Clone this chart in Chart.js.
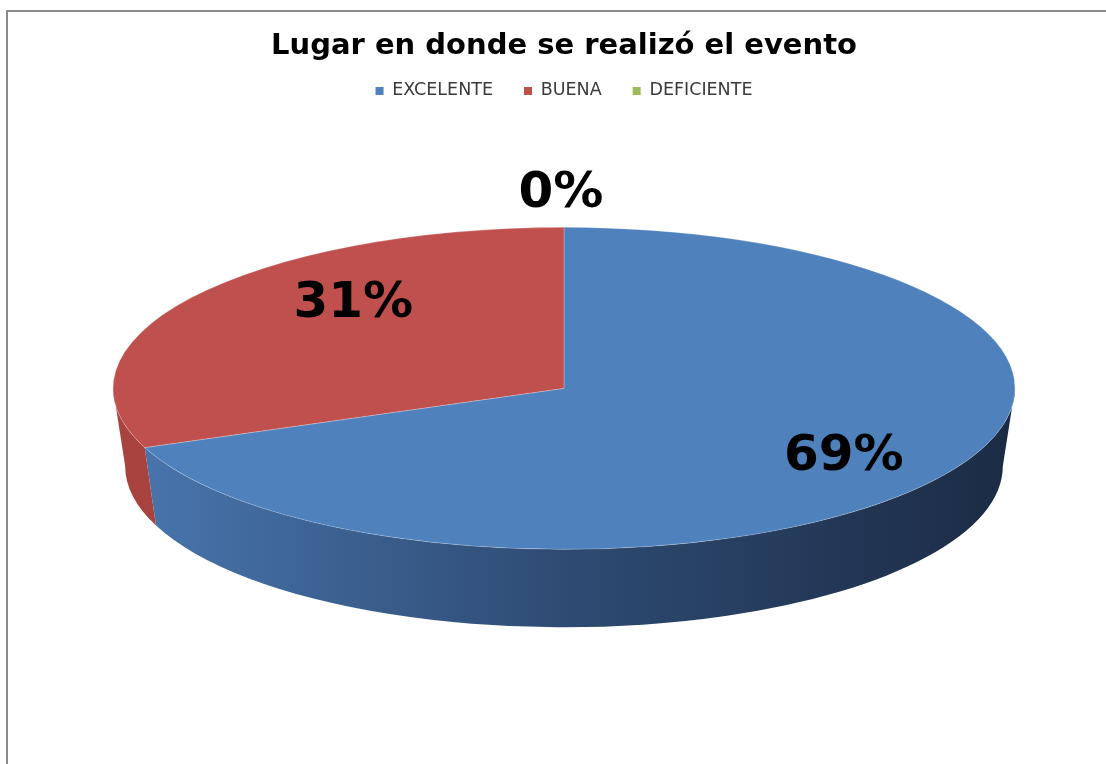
<!DOCTYPE html>
<html lang="es">
<head>
    <meta charset="UTF-8">
    <title>Lugar en donde se realizó el evento</title>
    <script src="https://cdn.jsdelivr.net/npm/chart.js"></script>
    <style>
        html, body {
            margin: 0;
            padding: 0;
            background: #ffffff;
            overflow: hidden;
        }

        /* chart frame, runs off the right and bottom edges */
        #frame {
            position: absolute;
            left: 6px;
            top: 10px;
            width: 1200px;
            height: 900px;
            border: 2px solid #8a8a8a;
        }

        #wrap {
            position: absolute;
            left: 0;
            top: 0;
            width: 1106px;
            height: 764px;
        }
    </style>
</head>

<body>
    <div id="frame"></div>
    <div id="wrap">
        <canvas id="lugarChart"></canvas>
    </div>

    <script>
        // survey answers
        const categories = ['EXCELENTE', 'BUENA', 'DEFICIENTE'];
        const percentages = [69, 31, 0];
        const percentLabels = percentages.map(v => v + '%');

        const topColors = ['#4f81bd', '#c0504d', '#9bbb59'];
        // side wall shading, light -> dark from left to right
        const sideColors = [
            ['#4a77b0', '#2e4b73', '#1b2b44'],
            ['#a9433f', '#963a37', '#7d302e'],
            ['#86a34b', '#6d853c', '#55682f']
        ];

        // flattens the pie into an ellipse and adds a front wall
        const pie3d = {
            id: 'pie3d',
            beforeDatasetsDraw(chart, args, opts) {
                const arcs = chart.getDatasetMeta(0).data;
                if (!arcs.length) return;
                const ctx = chart.ctx;
                const { x: cx, y: cy, outerRadius: R } = arcs[0];
                const rx = opts.rx, ry = opts.ry, depth = opts.depth;
                const brx = rx * opts.bottomShrink;

                arcs.forEach((arc, i) => {
                    // only the front half (0..PI) of the wall can be seen
                    const a1 = Math.max(arc.startAngle, 0);
                    const a2 = Math.min(arc.endAngle, Math.PI);
                    if (a2 <= a1) return;
                    const grad = ctx.createLinearGradient(cx - rx, 0, cx + rx, 0);
                    const c = sideColors[i];
                    grad.addColorStop(0, c[0]);
                    grad.addColorStop(0.5, c[1]);
                    grad.addColorStop(1, c[2]);
                    ctx.save();
                    ctx.beginPath();
                    ctx.ellipse(cx, cy, rx, ry, 0, a1, a2);
                    ctx.ellipse(cx, cy + depth, brx, ry, 0, a2, a1, true);
                    ctx.closePath();
                    ctx.fillStyle = grad;
                    ctx.fill();
                    ctx.restore();
                });

                ctx.save();
                ctx.translate(cx, cy);
                ctx.scale(rx / R, ry / R);
                ctx.translate(-cx, -cy);
            },
            afterDatasetsDraw(chart, args, opts) {
                const arcs = chart.getDatasetMeta(0).data;
                if (!arcs.length) return;
                const ctx = chart.ctx;
                ctx.restore();

                const { x: cx, y: cy } = arcs[0];
                ctx.save();
                ctx.font = 'bold 50px "DejaVu Sans"';
                ctx.fillStyle = '#000000';
                ctx.textAlign = 'center';
                ctx.textBaseline = 'alphabetic';
                arcs.forEach((arc, i) => {
                    const mid = (arc.startAngle + arc.endAngle) / 2;
                    const f = opts.labelRadius[i];
                    const shift = opts.labelShift[i];
                    const x = cx + opts.rx * f * Math.cos(mid) + shift[0];
                    const y = cy + opts.ry * f * Math.sin(mid) + shift[1];
                    ctx.fillText(percentLabels[i], x, y + 18);
                });
                ctx.restore();
            }
        };

        const ctx = document.getElementById('lugarChart').getContext('2d');
        const lugarChart = new Chart(ctx, {
            type: 'pie',
            data: {
                labels: categories,
                datasets: [{
                    data: percentages,
                    backgroundColor: topColors,
                    borderColor: 'rgba(255, 255, 255, 0.35)',
                    borderWidth: 0.6
                }]
            },
            plugins: [pie3d],
            options: {
                responsive: true,
                maintainAspectRatio: false,
                animation: false,
                events: [],
                layout: {
                    padding: { left: 22, right: 0, top: 0, bottom: 97 }
                },
                plugins: {
                    title: {
                        display: true,
                        text: 'Lugar en donde se realizó el evento',
                        color: '#000000',
                        font: { family: '"DejaVu Sans"', size: 29, weight: 'bold', lineHeight: 0.8 },
                        padding: { top: 35, bottom: -7 }
                    },
                    legend: {
                        position: 'top',
                        labels: {
                            color: '#3a3a3a',
                            font: { family: '"DejaVu Sans"', size: 17.5 },
                            boxWidth: 8,
                            boxHeight: 8,
                            padding: 31,
                            generateLabels(chart) {
                                const items = Chart.overrides.pie.plugins.legend.labels.generateLabels(chart);
                                items.forEach(it => { it.lineWidth = 0; it.hidden = false; });
                                return items;
                            }
                        }
                    },
                    tooltip: { enabled: false },
                    pie3d: {
                        rx: 451,
                        ry: 161,
                        depth: 78,
                        bottomShrink: 0.973,
                        labelRadius: [0.75, 0.75, 1.24],
                        labelShift: [[0, -4], [69, -21], [-3, 0]]
                    }
                }
            }
        });
    </script>
</body>
</html>
